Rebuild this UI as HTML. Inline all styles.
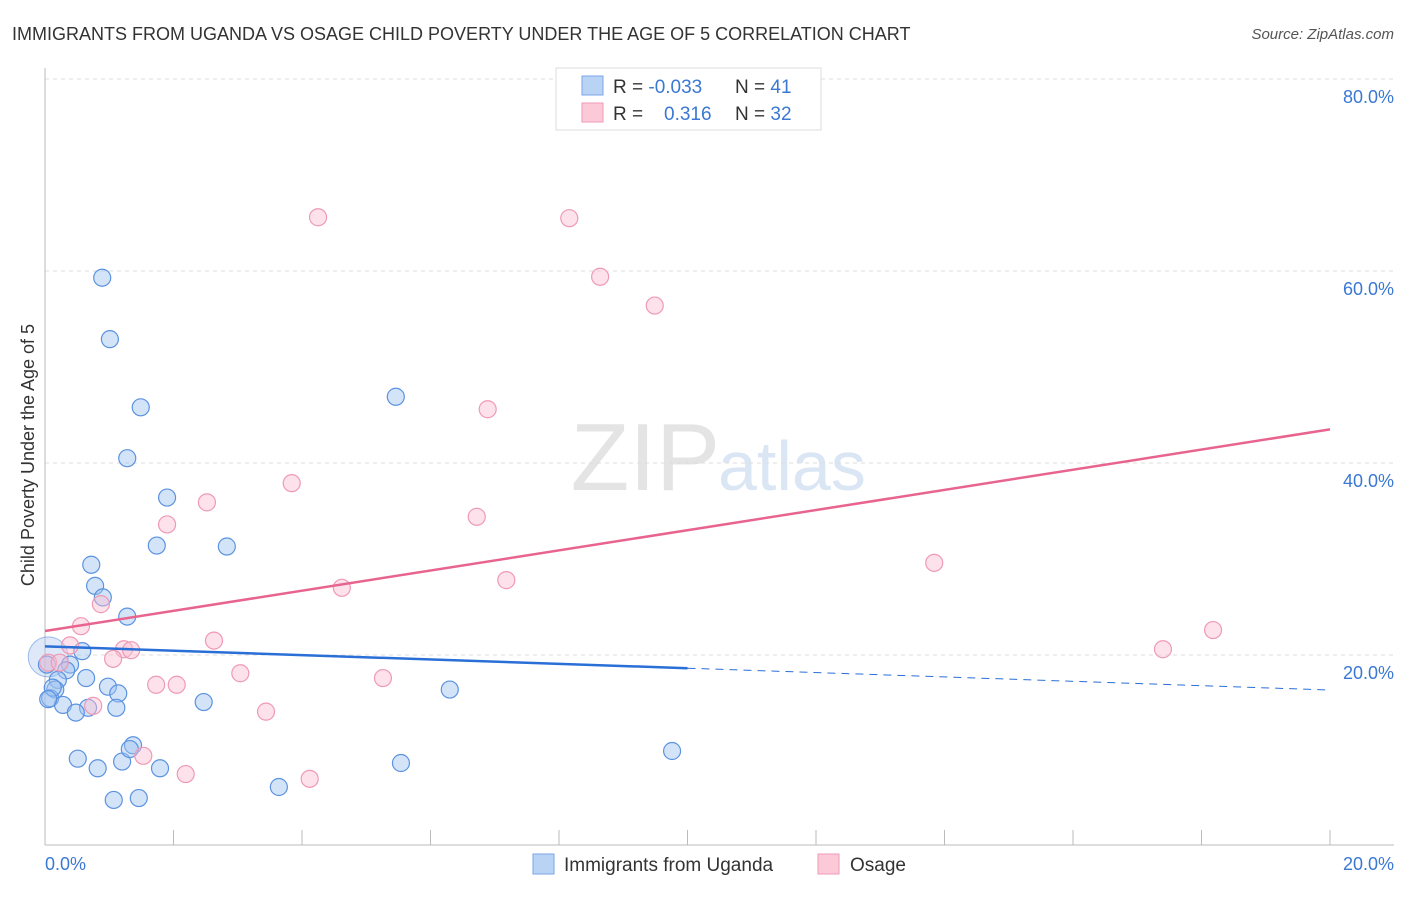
<!DOCTYPE html>
<html><head><meta charset="utf-8"><style>
body{margin:0;background:#fff;font-family:"Liberation Sans",sans-serif;}
svg text{font-family:"Liberation Sans",sans-serif;}
</style></head><body>
<svg id="chart" width="1406" height="892">
<text x="12" y="40" font-size="18" fill="#333">IMMIGRANTS FROM UGANDA VS OSAGE CHILD POVERTY UNDER THE AGE OF 5 CORRELATION CHART</text>
<text x="1394" y="39" font-size="15" fill="#555" font-style="italic" text-anchor="end">Source: ZipAtlas.com</text>
<text x="720" y="490" font-size="96" fill="#e4e4e4" text-anchor="end" font-family="Liberation Serif">ZIP</text>
<text x="718" y="490" font-size="70" fill="#dbe6f5">atlas</text>
<g id="grid"></g>
<g id="axes"></g>
<g id="points"></g>
<g id="lines"></g>
<text transform="translate(34,455) rotate(-90)" font-size="18" fill="#333" text-anchor="middle">Child Poverty Under the Age of 5</text>
<text x="45" y="870" font-size="18" fill="#3a78d4">0.0%</text>
<text x="1394" y="870" font-size="18" fill="#3a78d4" text-anchor="end">20.0%</text>
<g>
<rect x="556" y="68" width="265" height="62" fill="#fff" stroke="#ddd"/>
<rect x="582" y="76" width="21" height="19" fill="#b9d3f5" stroke="#7aa6e6"/>
<rect x="582" y="103" width="21" height="19" fill="#fcc9d8" stroke="#ef9ab4"/>
<text x="613" y="93" font-size="19" fill="#333">R = <tspan fill="#3a78d4">-0.033</tspan></text>
<text x="735" y="93" font-size="19" fill="#333">N = <tspan fill="#3a78d4">41</tspan></text>
<text x="613" y="120" font-size="19" fill="#333">R = </text>
<text x="664" y="120" font-size="19" fill="#3a78d4">0.316</text>
<text x="735" y="120" font-size="19" fill="#333">N = <tspan fill="#3a78d4">32</tspan></text>
</g>
<g>
<rect x="533" y="854" width="21" height="20" fill="#b9d3f5" stroke="#7aa6e6"/>
<text x="564" y="871" font-size="19" fill="#333">Immigrants from Uganda</text>
<rect x="818" y="854" width="21" height="20" fill="#fcc9d8" stroke="#ef9ab4"/>
<text x="850" y="871" font-size="19" fill="#333">Osage</text>
</g>
</svg>
<script>
const yTicks=[20,40,60,80];
const yTickLabels=["20.0%","40.0%","60.0%","80.0%"];
const xTicks=[2,4,6,8,10,12,14,16,18,20];
const blueX=[0.89,1.01,1.49,1.28,5.46,1.90,1.74,2.83,0.72,0.78,0.90,1.28,0.58,0.39,0.33,0.64,0.20,0.16,0.08,0.98,1.14,0.28,0.67,1.11,2.47,6.30,0.48,0.51,0.82,1.20,1.37,1.32,1.79,5.54,9.76,3.64,1.07,1.46,0.12,0.03,0.05];
const blueY=[59.3,52.9,45.8,40.5,46.9,36.4,31.4,31.3,29.4,27.2,26.0,24.0,20.4,19.0,18.4,17.6,17.4,16.4,15.5,16.7,16.0,14.8,14.5,14.5,15.1,16.4,14.0,9.2,8.2,8.9,10.6,10.2,8.2,8.75,10.0,6.25,4.9,5.1,16.6,19.0,15.4];
const pinkX=[4.25,8.16,8.64,9.49,6.89,3.84,2.52,6.72,1.90,7.18,4.62,13.84,0.87,0.56,18.18,2.63,17.40,0.39,1.23,1.34,1.06,0.05,0.23,3.04,5.26,1.73,2.05,3.44,0.75,1.53,2.19,4.12];
const pinkY=[65.6,65.5,59.4,56.4,45.6,37.9,35.9,34.4,33.6,27.8,27.0,29.6,25.3,23.0,22.6,21.5,20.6,21.0,20.6,20.5,19.6,19.2,19.2,18.1,17.6,16.9,16.9,14.1,14.7,9.5,7.6,7.1];
const blueFit=[20.9,16.35]; // value at x=0, x=20
const pinkFit=[22.5,43.5];
const bigBubble=[0.05,19.8];
const NS="http://www.w3.org/2000/svg";
const X0=45,X1=1330,Y0=847,PXPER=9.6;
function sx(v){return X0+v/20*(X1-X0);}
function sy(v){return Y0-v*PXPER;}
function mk(tag,attrs,parent){const e=document.createElementNS(NS,tag);for(const k in attrs)e.setAttribute(k,attrs[k]);parent.appendChild(e);return e;}
const grid=document.getElementById('grid'),axes=document.getElementById('axes'),pts=document.getElementById('points'),lines=document.getElementById('lines');
yTicks.forEach((t,i)=>{
  const l=mk('line',{x1:X0,x2:1394,y1:sy(t),y2:sy(t),stroke:'#ddd','stroke-dasharray':'4,4'},grid);
  
  
  const tx=mk('text',{x:1394,y:sy(t)+24,'font-size':18,fill:'#3a78d4','text-anchor':'end'},grid);
  tx.textContent=yTickLabels[i];
  
  
});
const ya=mk('line',{x1:X0,x2:X0,y1:68,y2:845,stroke:'#bbb'},axes);


const xa=mk('line',{x1:X0,x2:1394,y1:845,y2:845,stroke:'#bbb'},axes);


xTicks.forEach(t=>{
  const l=mk('line',{x1:sx(t),x2:sx(t),y1:830,y2:845,stroke:'#bbb'},axes);
  
  
});
const bb=mk('circle',{cx:sx(bigBubble[0]),cy:sy(bigBubble[1]),r:20,fill:'rgba(160,190,235,0.35)',stroke:'rgba(70,130,220,0.5)'},pts);


blueX.forEach((x,i)=>{
  const c=mk('circle',{cx:sx(x),cy:sy(blueY[i]),r:8.5,fill:'rgba(160,195,240,0.45)',stroke:'#5b93e0','stroke-width':1.2},pts);
  
  
});
pinkX.forEach((x,i)=>{
  const c=mk('circle',{cx:sx(x),cy:sy(pinkY[i]),r:8.5,fill:'rgba(250,190,210,0.45)',stroke:'#ef9ab4','stroke-width':1.2},pts);
  
  
});
function fit(f,x){return f[0]+(f[1]-f[0])*x/20;}
const bl=mk('line',{x1:sx(0),y1:sy(fit(blueFit,0)),x2:sx(10),y2:sy(fit(blueFit,10)),stroke:'#2a6fd6','stroke-width':2.5},lines);


const bd=mk('line',{x1:sx(10),y1:sy(fit(blueFit,10)),x2:sx(20),y2:sy(fit(blueFit,20)),stroke:'#2a6fd6','stroke-width':1,'stroke-dasharray':'8,6'},lines);


const pl=mk('line',{x1:sx(0),y1:sy(fit(pinkFit,0)),x2:sx(20),y2:sy(fit(pinkFit,20)),stroke:'#e8648e','stroke-width':2.5},lines);


</script>
</body></html>
